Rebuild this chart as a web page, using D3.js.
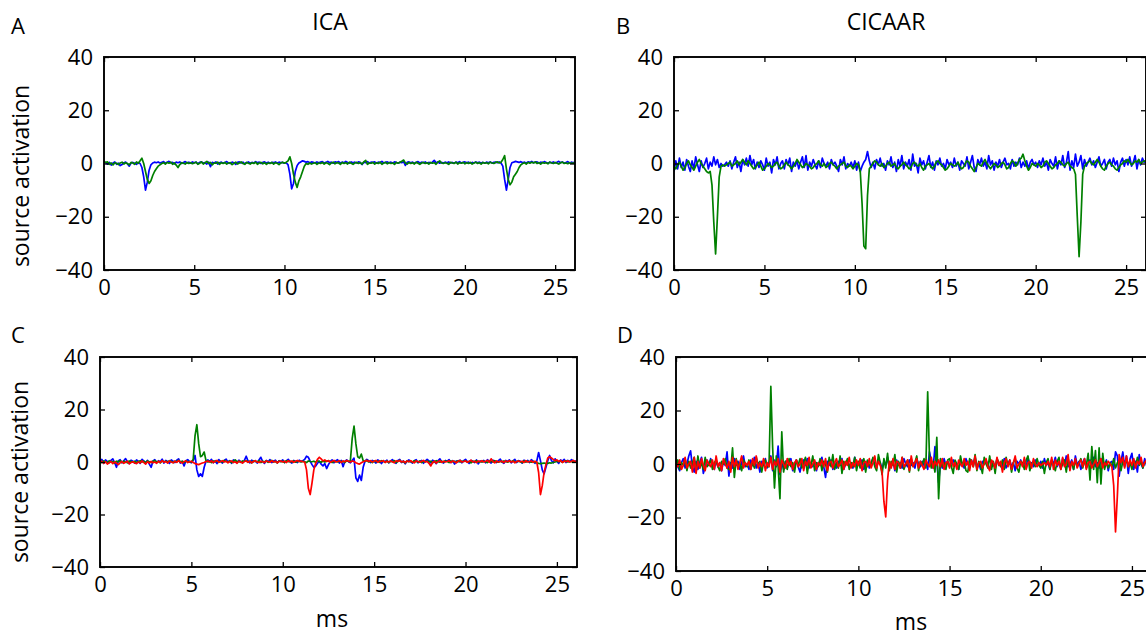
<!DOCTYPE html>
<html>
<head>
<meta charset="utf-8">
<script src="https://cdn.jsdelivr.net/npm/d3@7"></script>
<style>
  body { margin: 0; background: #fff; }
  svg text { font-family: "Open Sans", "Noto Sans", sans-serif; fill: #000; }
</style>
</head>
<body>
<svg id="fig" width="1146" height="638"></svg>
<script>
// ---- data (one sample every 0.1 ms, 0 .. 26.1 ms) ----
var sampleMs = 0.1;
var xTicks = [0, 5, 10, 15, 20, 25];
var yTicks = [-40, -20, 0, 20, 40];
var columnTitles = ['ICA', 'CICAAR'];
var panelLetters = ['A', 'B', 'C', 'D'];
var yLabel = 'source activation';
var xLabel = 'ms';
var seriesColors = ['#0000ff', '#008000', '#ff0000'];

var icaBlue = [
  0.5,0.3,-0.2,0.4,-0.6,0.2,0.6,-0.3,0.1,-0.8,
  -0.4,0.3,0.5,-0.2,-1.0,0.2,0.4,0.1,-0.3,0.3,
  0.0,-1.5,-5.0,-10.0,-7.0,-2.5,-0.5,0.2,0.5,0.3,
  0.6,0.2,0.4,0.7,0.1,0.5,0.8,0.2,0.4,-0.1,
  0.5,0.3,0.6,0.0,0.4,0.7,0.2,0.5,0.1,0.6,
  0.3,0.5,-0.1,0.4,0.6,0.2,0.3,-0.2,0.5,-1.2,
  0.4,0.2,0.6,-0.2,0.3,0.5,0.1,0.4,0.7,0.2,
  0.0,0.5,0.3,-0.3,0.4,0.6,0.2,0.5,-0.1,0.3,
  0.6,0.1,0.4,0.2,0.7,0.3,0.5,0.0,0.4,0.6,
  0.2,0.5,0.1,0.4,0.3,0.6,0.2,0.5,0.3,0.4,
  0.1,0.3,-0.5,-4.0,-9.5,-7.5,-3.0,-0.8,0.2,0.6,
  1.0,0.8,0.5,0.7,0.3,0.6,0.4,0.2,0.6,0.3,
  0.5,0.7,0.2,0.4,0.8,0.3,0.5,0.1,0.6,0.4,
  0.7,0.2,0.5,0.3,0.8,0.4,0.1,0.6,0.3,0.5,
  0.2,0.6,0.4,-0.4,0.5,0.3,0.7,0.2,0.5,0.4,
  0.6,0.1,0.5,0.3,0.8,0.2,0.4,0.6,0.3,0.5,
  0.2,0.6,0.4,0.1,0.5,0.3,0.7,-0.7,0.4,0.6,
  0.3,0.5,0.1,0.4,0.7,0.2,0.5,0.3,0.6,0.1,
  0.4,0.2,0.5,1.2,0.3,0.6,0.1,0.4,0.2,0.5,
  0.3,0.6,0.2,0.4,0.1,0.5,0.3,0.7,0.2,0.4,
  0.6,0.3,0.5,0.1,0.4,0.2,0.6,0.3,0.5,0.2,
  0.4,0.1,0.5,0.3,0.6,0.2,0.4,0.5,0.3,0.6,
  0.2,-1.0,-6.0,-10.0,-6.0,-1.5,0.3,0.5,0.8,0.6,
  0.4,0.7,0.3,0.5,0.2,0.6,0.4,0.8,0.3,0.5,
  0.6,0.2,0.5,0.3,0.7,0.4,0.1,0.5,0.3,0.6,
  0.2,0.5,0.8,0.3,0.6,0.1,0.4,0.7,0.2,0.5,
  0.3,0.4
];
var icaGreen = [
  0.8,0.4,0.6,-0.3,0.2,-0.5,0.3,0.1,-0.4,0.2,
  0.5,-0.2,0.3,0.0,-0.5,0.4,0.2,-0.3,0.6,0.1,
  1.0,2.0,0.0,-3.0,-6.0,-7.5,-6.5,-4.5,-3.0,-2.0,
  -1.0,-0.5,0.0,0.3,-0.2,0.4,0.1,0.5,-0.3,0.2,
  -0.6,-1.5,-0.4,0.3,0.1,-0.2,0.4,0.0,0.3,-0.1,
  0.2,0.5,-0.3,0.1,0.6,-0.2,0.3,0.8,0.0,0.4,
  -0.5,0.2,0.1,0.5,-0.3,0.3,0.0,0.4,-0.2,0.2,
  0.3,-0.4,0.1,0.5,-0.2,0.2,0.6,0.0,-0.3,0.4,
  0.1,-0.2,0.3,0.0,0.5,-0.3,0.2,0.4,-0.1,0.3,
  -0.3,0.2,0.0,0.4,-0.2,0.3,0.1,-0.4,0.2,0.5,
  0.1,0.5,1.0,2.5,0.0,-4.0,-7.0,-9.0,-6.5,-5.0,
  -3.0,-1.0,0.0,-0.3,0.2,-0.2,0.1,0.3,-0.3,0.2,
  0.0,0.4,-0.2,0.3,0.1,-0.4,0.2,0.5,-0.1,0.3,
  0.2,-0.3,0.4,0.0,0.3,-0.2,0.5,0.1,-0.3,0.2,
  0.4,0.0,0.3,-0.2,0.6,1.2,-0.3,0.2,0.1,0.4,
  -0.2,0.3,0.0,0.5,-0.3,0.2,0.4,-0.1,0.3,0.0,
  0.2,-0.3,0.4,0.1,0.5,0.8,1.3,0.2,-0.2,0.4,
  0.0,0.3,-0.2,0.5,0.1,-0.3,0.2,0.4,0.0,0.3,
  -0.2,0.4,0.1,0.3,-0.3,0.5,1.0,0.2,0.0,0.3,
  0.1,-0.3,0.4,0.2,0.0,0.5,-0.2,0.3,0.1,0.4,
  -0.1,0.3,0.0,0.4,-0.2,0.2,0.5,0.0,0.3,-0.2,
  0.4,0.1,0.3,-0.1,0.5,0.2,0.0,0.4,0.6,0.2,
  0.5,1.5,3.0,-2.0,-6.0,-8.0,-7.0,-5.0,-4.0,-3.0,
  -1.5,-0.5,0.0,0.3,-0.2,0.4,0.1,0.5,0.2,0.6,
  0.0,0.3,-0.2,0.4,0.1,0.3,-0.1,0.5,0.2,0.0,
  0.4,0.1,-0.2,0.3,0.5,0.0,0.2,-0.1,0.3,0.1,
  0.2,0.0
];

var cicaarBlue = [
  -3,1,-2,2,-1.5,0.5,-2.5,1.5,-1,-3,
  1,-2,2.5,-0.5,-3,1,-1.5,0,2,-2,
  0.5,-1,2.5,-0.5,1.5,-1.5,0,-1,-0.5,0.5,
  -1,1,-2,0.5,2.5,-1.5,0.5,-3,1.5,-0.5,
  2,-1,3,-0.5,1.5,-2,0.5,-1.5,1,-0.5,
  -2.5,2,-1,0.5,-3.5,1.5,-0.5,2.5,-2,0,
  1,-2,1.5,-0.5,2,-3,0.5,-1,1,-2,
  0.5,2.5,-1.5,3,-2.5,0.5,-1,1.5,-0.5,-2,
  1,-1.5,2,0,-1,0.5,-2,1.5,-0.5,0.5,
  -1,-3,1.5,-0.5,2.5,-2,0,-1,0.5,-1.5,
  1,-2.5,0.5,-3,-1,0.5,1.5,4.5,1,-1.5,
  0.5,-2,1.5,-0.5,2,-1,0,-2.5,1,-0.5,
  2.5,-1.5,0.5,-3,1.5,-1,3,-2,0.5,-1,
  1.5,-2.5,3.5,-1,0,-3.5,2,-0.5,1,-2,
  0.5,3,-1.5,0.5,-2.5,1,-0.5,2,-1,0,
  -2,1.5,-0.5,0.5,-1.5,2,-1,0.5,-2.5,1,
  0,-1,2.5,-2,0.5,3,-1.5,-3,1.5,-0.5,
  2,-1,0.5,-2,3,-0.5,1,-2.5,0.5,-1,
  1.5,-1.5,0.5,2,-0.5,0,-2,1.5,-1,0.5,
  -0.5,2,-1.5,0.5,-1,1,-2,0.5,1.5,-0.5,
  0.5,-1.5,1,-0.5,2,-1,0.5,-2.5,1.5,0,
  -1,2.5,-2,1,-0.5,3,-1.5,0.5,4.5,-2.5,
  1,-1.5,3.5,-1,0.5,3,-2,1.5,-1,0.5,
  2,-0.5,1,-1.5,0.5,2.5,-1,0,1.5,-2,
  0.5,1.5,-1,2,-0.5,1,-3,0.5,2,-1,
  1.5,-0.5,2.5,-1,0.5,3,-2,1.5,-0.5,2,
  0.5,1
];
var cicaarGreen = [
  -1,-2,-0.5,0.5,-1,-2.5,-1.5,0,1,-0.5,
  -1.5,-2.5,-1,0.5,1.5,0,-1,-2,-3,-3.5,
  -3,-8,-22,-34,-20,-5,-1,-0.5,-1,-0.5,
  0,0.5,-1,-0.5,0,1,-0.5,0.5,1.5,0.5,
  -0.5,1,0,-1,-2,-1.5,-0.5,0.5,-1,-2.5,
  -2,-1,0,-0.5,-1.5,-1,0,0.5,-1,-2,
  -1.5,-0.5,0.5,-0.5,-1,-2,-1,0,1.5,0.5,
  -0.5,-1.5,-1,0,-0.5,-1,-2,-1.5,-0.5,0,
  1,-0.5,-1,0,-1.5,-1,0,0.5,-0.5,-1,
  -2,-1,-0.5,0,0.5,-1,-1.5,-0.5,-1,-2,
  -1,0,-0.5,-3,-15,-31,-32,-12,-2,-1,
  0,1,0.5,-0.5,-1,0,-1.5,-1,0,0.5,
  -1,-0.5,0,-1.5,-2,-1,-0.5,0.5,-0.5,-1,
  -2,-1.5,0,0.5,-0.5,-1,0,-1.5,-2.5,-1,
  -0.5,0,-1,-2,-1,0.5,1,0,-0.5,-1.5,
  -2.5,-2,-1,0,-0.5,-1,-0.5,0.5,-1,-2,
  -1.5,0,1,0.5,-1,-2,-3,-1.5,0,-0.5,
  -1,0.5,1.5,0,-1,-2,-1,0,-0.5,-1.5,
  -1,0,0.5,-0.5,-2,-1.5,0,1,0.5,-1,
  0,1.5,2,3.5,1,-1,-2.5,-1.5,0,-0.5,
  -1,0,-0.5,-1.5,-1,0.5,1,0,-1,-2,
  -1.5,-0.5,0,1,0.5,-0.5,-1,0,0.5,-1,
  -1.5,-2,-4,-20,-35,-22,-4,-1,0,0.5,
  1,0,-0.5,0.5,1.5,0.5,-1,-2,-2.5,-1,
  0,0.5,-0.5,-1,-2,-2.5,-1.5,-0.5,0,1,
  0.5,1.5,0.5,-0.5,0,1,0.5,1.5,0,0.5,
  1,0.5
];

var icaBlue3 = [
  0.5,1.0,-0.5,0.8,0.2,-0.3,0.6,1.2,-0.2,-2.0,
  0.4,0.9,-0.3,0.5,1.3,0.1,-0.6,0.7,0.3,-0.4,
  0.8,0.2,-0.5,1.0,0.3,-0.2,0.6,-0.8,-2.0,0.4,
  0.9,-0.3,0.5,0.1,1.1,-0.4,0.6,0.2,-0.5,0.8,
  0.3,-0.2,0.7,1.2,-0.4,0.2,-1.5,0.5,0.9,0.1,
  -0.3,0.6,2.5,-3.0,-5.5,-4.5,-5.5,-2.0,0.3,0.8,
  0.2,1.0,-0.3,0.5,-0.6,0.9,0.2,-0.4,0.6,1.1,
  0.0,0.5,-0.5,0.8,0.3,-0.2,0.7,0.1,-0.3,0.6,
  2.2,0.4,-0.3,0.7,0.1,0.5,-0.4,0.8,1.8,0.2,
  -0.5,0.6,0.1,0.9,-0.2,0.4,0.7,-0.3,0.5,0.2,
  0.8,-0.2,0.4,1.0,0.1,-0.4,0.6,0.3,-0.2,0.7,
  0.2,0.5,1.0,2.2,1.8,0.3,-1.0,-2.0,-1.5,-0.5,
  0.3,-0.8,-1.5,-0.6,-2.5,-1.0,0.2,0.8,-0.3,0.5,
  0.9,-0.4,0.6,-1.8,0.3,0.8,0.1,-0.3,0.6,1.5,
  -6.0,-7.4,-5.0,-7.0,-2.0,0.3,1.0,0.5,-0.2,0.6,
  0.2,-0.4,0.8,0.3,-0.6,0.5,0.1,0.7,-0.3,0.4,
  0.9,0.0,-0.5,0.6,1.0,-0.2,0.4,-0.7,0.3,0.8,
  0.1,-0.4,0.5,0.9,-0.3,0.2,0.6,-0.5,0.3,1.0,
  0.4,-0.3,0.7,0.2,-0.6,0.5,1.2,0.0,-0.4,0.6,
  0.3,0.9,-0.2,0.5,-0.8,0.4,0.1,0.7,-0.3,0.5,
  1.0,0.2,-0.5,0.6,0.3,-0.2,0.8,-0.7,0.4,0.1,
  0.6,-0.3,0.9,0.2,-0.4,0.7,0.3,-0.2,0.5,1.1,
  0.0,-0.5,0.6,0.2,0.8,-0.3,0.4,1.0,-0.2,0.5,
  0.3,-0.4,0.7,0.1,0.6,-0.2,0.9,0.3,-0.5,0.4,
  3.6,0.5,-3.0,-4.5,-2.0,0.5,2.5,0.6,-0.3,1.2,
  0.2,-0.5,0.8,0.3,1.0,-0.2,0.6,0.1,0.9,0.4,
  0.2,0.6
];
var icaGreen3 = [
  0.3,-0.2,0.4,0.1,-0.3,0.5,0.0,0.2,-0.4,0.3,
  0.1,0.5,-0.2,0.3,0.0,-0.3,0.4,0.2,-0.1,0.3,
  -0.2,0.2,0.5,0.0,0.3,-0.3,0.4,0.1,-0.2,0.3,
  0.5,0.0,0.2,-0.3,0.4,0.1,0.3,-0.1,0.5,0.2,
  -0.2,0.3,0.1,0.6,0.0,0.3,-0.2,0.4,0.1,0.2,
  0.0,1.0,10.0,14.2,7.0,2.0,2.5,3.8,0.5,0.0,
  0.3,-0.2,0.4,0.1,0.5,-0.1,0.3,0.0,0.6,0.2,
  0.0,0.4,-0.2,0.3,0.8,0.1,0.3,-0.1,0.4,0.2,
  0.5,0.0,0.3,-0.3,0.4,0.2,0.0,0.5,-0.2,0.3,
  0.1,0.4,-0.1,0.3,0.6,0.0,0.2,-0.3,0.4,0.1,
  0.3,-0.2,0.5,0.1,0.3,0.0,0.4,-0.1,0.2,0.3,
  0.0,0.3,0.1,-0.2,0.4,0.2,0.1,0.3,-0.1,0.5,
  0.2,-0.1,0.4,0.0,0.3,0.5,0.1,-0.2,0.3,0.2,
  0.0,0.4,0.1,0.3,-0.2,0.5,0.2,0.5,9.0,13.7,
  7.0,2.0,1.5,3.0,0.5,0.2,0.6,0.0,0.3,-0.2,
  0.4,0.1,0.3,-0.1,0.5,0.2,0.0,0.4,-0.2,0.3,
  0.1,0.5,-0.2,0.3,0.6,0.0,0.2,-0.3,0.4,0.1,
  0.3,-0.1,0.5,0.2,0.0,0.4,-0.2,0.3,0.1,0.4,
  0.0,0.3,-0.3,0.2,0.5,0.1,-0.1,0.3,0.0,0.4,
  0.2,-0.2,0.4,0.1,0.3,-0.1,0.5,0.0,0.3,0.2,
  0.4,0.0,0.2,-0.3,0.3,0.1,0.5,-0.1,0.2,0.0,
  0.3,0.1,-0.2,0.4,0.2,0.0,0.5,0.1,-0.1,0.3,
  0.0,0.4,0.2,-0.1,0.3,0.1,0.5,0.0,0.2,0.3,
  0.1,-0.2,0.4,0.0,0.3,0.1,-0.1,0.2,0.0,-0.3,
  -0.5,-0.6,-0.5,-0.4,-0.6,-0.5,-0.3,-0.4,-0.2,0.0,
  0.3,0.1,0.4,-0.1,0.2,0.5,0.0,0.3,0.1,0.2,
  0.0,0.3
];
var icaRed3 = [
  -0.2,0.3,-0.5,0.1,-0.8,-0.3,0.2,-0.6,0.0,-0.4,
  -1.0,-0.3,0.2,-0.5,-0.1,0.3,-0.7,-0.2,0.1,-0.4,
  -0.6,0.0,-0.3,0.4,-0.2,-0.8,0.1,-0.4,0.2,-0.3,
  0.0,-0.5,0.3,-0.2,0.5,-0.1,0.2,-0.4,0.4,0.0,
  -0.3,0.3,-0.1,0.5,0.0,-0.4,0.2,0.4,-0.2,0.1,
  0.3,-0.2,-0.6,-0.8,-1.0,-0.7,-0.4,-0.2,0.2,0.4,
  0.0,0.4,-0.2,0.3,0.6,-0.1,0.2,0.5,0.0,0.3,
  -0.3,0.2,0.4,-0.2,0.1,-0.5,0.3,0.0,-0.4,0.2,
  0.4,-0.1,0.3,-0.3,0.2,0.5,0.0,-0.2,0.3,0.1,
  -0.2,0.4,0.2,-0.1,0.5,0.0,0.3,-0.3,0.2,0.4,
  0.0,0.3,-0.2,0.5,0.1,0.4,-0.1,0.3,0.6,0.2,
  0.4,0.1,0.0,-3.0,-10.0,-12.4,-8.0,-3.0,-0.5,1.0,
  1.8,1.2,0.4,0.8,0.2,0.5,-0.1,0.3,0.6,0.0,
  0.2,0.5,-0.2,0.4,0.1,0.6,0.3,0.0,0.4,0.2,
  -0.3,-0.6,-0.8,-0.3,0.1,0.4,0.6,0.2,0.5,0.0,
  0.3,0.6,-0.1,0.4,0.2,0.5,-0.2,0.3,0.0,0.4,
  0.1,-0.3,0.5,0.2,0.6,0.0,0.3,-0.2,0.4,0.1,
  0.5,0.0,-0.3,0.4,0.2,-0.1,0.3,0.6,0.0,0.2,
  -0.5,-1.5,-0.2,0.3,-0.4,0.2,0.5,-0.1,0.3,0.0,
  0.2,0.5,-0.2,0.4,0.1,-0.3,0.3,0.6,0.0,0.2,
  0.4,-0.1,0.3,0.7,0.0,0.3,-0.2,0.4,0.1,0.5,
  0.0,0.3,0.6,-0.1,1.2,0.2,-0.3,0.4,0.0,0.2,
  0.3,-0.2,0.4,0.1,0.5,0.0,0.3,-0.3,0.2,0.4,
  0.1,0.3,-0.2,0.5,0.0,0.2,0.4,-0.1,0.3,0.0,
  -4.0,-12.4,-9.0,-4.0,-1.0,1.5,2.0,1.5,1.0,0.5,
  0.8,0.2,0.6,-0.2,0.4,0.1,0.5,0.0,0.3,0.6,
  0.1,0.4
];

var cicaarBlue3 = [
  1.5,-1.0,-2.5,0.5,2.0,-1.5,0.0,3.0,4.9,-1.0,
  -3.0,1.0,-2.0,0.5,2.5,-3.5,-1.0,1.5,-0.5,2.0,
  0.0,-2.0,1.5,-1.0,0.5,-2.5,1.0,-0.5,4.5,-4.5,
  0.5,-1.5,2.0,-0.5,1.0,-2.0,0.5,3.0,-1.0,0.0,
  -2.0,1.5,-0.5,2.5,-1.5,0.5,-3.0,1.0,-0.5,2.0,
  -1.5,0.5,3.0,-2.5,1.5,-1.0,6.7,-4.0,0.5,-2.0,
  1.0,-1.5,0.5,2.0,-2.5,0.0,1.5,-1.0,-3.0,0.5,
  1.5,-0.5,2.0,-1.5,0.5,-1.0,1.0,-2.5,0.5,-0.5,
  2.5,-1.0,-5.0,1.0,-0.5,1.5,-2.0,0.5,-1.5,1.0,
  -0.5,2.0,-2.0,0.0,1.5,-1.0,0.5,-1.5,2.5,-0.5,
  0.5,-1.0,1.5,-2.0,0.0,1.0,-1.5,0.5,2.0,-0.5,
  -1.0,1.5,0.5,-2.0,1.0,-0.5,2.5,-1.5,0.0,1.0,
  -2.5,1.5,-0.5,0.5,-1.5,2.0,0.0,-1.0,1.5,-0.5,
  0.5,-1.5,2.0,0.0,-1.0,1.0,-0.5,1.5,-2.0,4.5,
  1.0,-1.5,6.5,1.0,-7.0,0.5,-1.5,2.0,-0.5,1.0,
  -1.0,0.5,1.5,-0.5,0.0,-2.0,1.0,0.5,-1.5,2.0,
  0.0,-1.0,1.5,-0.5,2.5,-1.5,0.5,-2.0,1.0,0.0,
  1.5,-0.5,-2.0,1.0,0.5,-1.5,2.0,-0.5,0.5,-1.0,
  2.0,-1.5,0.0,1.5,-1.0,0.5,-2.5,1.0,0.0,1.5,
  -0.5,1.0,-1.5,2.5,-0.5,0.5,-1.0,1.5,0.0,-0.5,
  1.0,-1.5,2.0,-0.5,0.5,-2.0,1.5,0.0,2.5,-1.0,
  0.5,-1.5,2.0,-0.5,3.0,-1.0,0.0,1.5,-2.0,3.0,
  -0.5,1.0,-2.0,0.5,2.0,-1.5,0.0,1.5,-0.5,2.5,
  -1.0,0.5,-1.5,2.0,0.0,-0.5,1.5,-2.5,0.5,1.0,
  -2.0,4.5,3.0,-4.5,1.0,4.5,-1.0,3.0,-3.5,2.0,
  4.0,-2.0,1.0,-3.0,3.5,0.0,-1.5,2.0,-0.5,1.0,
  0.5,-0.5
];
var cicaarGreen3 = [
  -1.0,1.5,-2.0,0.5,-0.5,2.0,-2.5,1.0,-1.5,0.5,
  2.5,-3.0,3.0,-1.5,0.5,-2.0,2.5,-1.0,0.0,1.5,
  -2.0,0.5,1.5,-1.0,-2.5,1.0,0.0,2.0,-1.5,-2.0,
  -2.0,6.0,-5.0,2.0,-1.0,0.5,-2.5,1.5,0.0,-1.0,
  1.5,-2.0,0.5,-1.5,2.5,-0.5,1.0,-3.0,0.5,1.5,
  -1.0,-1.0,29.0,6.0,-9.0,3.0,-1.0,-13.0,12.0,-3.0,
  1.0,-2.0,2.0,-1.0,0.5,-3.0,1.5,-0.5,2.0,-1.5,
  0.5,2.5,-3.5,1.0,-0.5,3.0,-2.5,0.5,-1.0,2.0,
  -2.5,1.0,0.0,-3.0,2.5,-1.0,3.5,-2.0,0.5,-1.5,
  3.0,-3.5,1.0,-0.5,2.0,-2.0,0.5,-1.0,2.5,-2.5,
  1.0,-1.5,0.5,2.0,-3.0,1.5,-0.5,0.0,2.5,-1.0,
  -2.5,3.5,0.5,-4.0,2.0,-1.5,4.0,-2.5,1.0,-0.5,
  3.5,-3.0,1.0,-1.5,2.5,-2.0,0.0,1.5,-3.0,2.0,
  -1.0,0.5,3.0,-2.5,1.0,-0.5,2.0,-1.5,27.0,2.0,
  -1.5,1.0,-3.0,10.0,-13.0,2.0,-1.0,0.5,-2.0,1.5,
  2.0,-1.0,-3.5,1.5,0.0,-2.0,3.0,-0.5,1.0,-2.5,
  -3.0,2.0,0.5,-1.0,3.5,-2.5,1.0,-0.5,-3.5,2.5,
  0.0,-1.5,3.0,-2.0,1.0,-3.5,2.0,0.5,-1.0,1.5,
  -2.0,2.5,-0.5,1.0,-3.0,0.5,2.0,-1.5,-3.0,1.0,
  0.5,-2.0,1.5,3.0,-2.5,0.0,1.0,-1.0,2.0,-0.5,
  -1.5,1.0,-3.5,0.5,2.0,-2.0,1.5,-0.5,-2.5,1.0,
  2.5,-2.0,0.0,1.5,-3.0,2.0,-1.0,0.5,-2.0,1.5,
  -1.0,0.5,2.0,-1.5,1.0,-0.5,4.0,-6.0,6.5,-2.0,
  5.0,-7.0,6.0,-7.5,4.0,-2.0,1.0,-1.5,0.5,-1.0,
  2.0,-1.5,0.5,1.5,-2.5,1.0,-0.5,2.0,-1.0,0.5,
  -2.0,1.5,-1.0,2.5,-0.5,1.0,-1.5,0.5,1.0,-0.5,
  0.5,0.0
];
var cicaarRed3 = [
  0.5,-1.0,1.5,-2.0,-0.5,2.5,-1.5,0.0,1.0,-3.0,
  2.5,-3.5,1.0,-1.5,2.0,-0.5,-2.5,1.5,0.0,-1.0,
  1.5,-2.0,3.0,-1.0,0.5,-2.5,2.0,0.0,-1.5,1.0,
  -3.0,2.5,-1.0,1.5,-2.0,0.5,3.0,-1.5,0.5,-0.5,
  1.0,-2.0,2.0,-0.5,3.0,-1.5,0.5,-1.0,2.0,-2.5,
  0.5,-1.0,2.5,-2.0,1.0,-0.5,2.0,-3.0,1.5,0.0,
  -1.5,2.0,-0.5,1.0,-2.0,0.5,1.5,-1.0,0.0,2.0,
  -2.5,1.0,-0.5,2.5,-1.5,0.0,1.5,-2.0,0.5,-0.5,
  1.5,-1.0,2.0,-2.5,0.5,1.0,-1.5,0.5,2.0,-1.0,
  0.0,1.5,-2.0,1.0,-0.5,2.5,-1.5,0.5,-1.0,1.5,
  -0.5,2.0,-2.5,0.5,1.0,-1.0,2.0,-1.5,0.5,3.0,
  -1.5,1.0,-0.5,-3.0,-14.0,-19.8,-6.0,1.0,-1.5,2.0,
  -2.0,1.0,0.5,-1.5,2.5,-1.0,0.0,1.5,-2.5,3.0,
  -1.0,0.5,2.0,-1.5,1.0,-0.5,-2.0,1.5,0.0,-1.0,
  2.5,-1.5,1.0,-0.5,1.5,-1.0,2.0,-2.0,0.5,1.0,
  -1.5,2.5,-1.0,0.5,-2.0,1.5,0.0,-1.0,2.0,-0.5,
  1.0,-2.5,1.5,-1.0,3.0,-2.0,0.5,1.0,-1.5,0.0,
  2.0,-1.0,-2.5,1.5,0.5,-1.5,2.5,-0.5,1.0,-3.0,
  0.5,2.0,-1.0,1.5,-2.0,0.5,3.0,-1.5,0.0,1.0,
  -1.0,2.5,-2.0,0.5,1.0,-1.5,2.0,0.0,-1.0,0.5,
  -0.5,0.0,0.5,-0.5,1.0,-1.0,2.5,-2.0,1.5,-0.5,
  1.0,-2.0,2.5,-1.0,0.0,3.5,-2.5,1.0,-0.5,2.0,
  -1.5,0.5,1.5,-1.0,2.0,-2.0,0.5,1.0,-1.5,0.0,
  1.5,-1.0,0.5,2.0,-1.5,0.5,-0.5,1.0,0.0,-1.0,
  -8.0,-25.4,-12.0,3.5,0.5,2.5,-1.5,3.0,-1.0,1.5,
  -0.5,2.0,-1.5,1.0,0.0,2.5,-1.0,0.5,1.5,-0.5,
  1.0,0.0
];

// ---- layout ----
var xMax = 26.1;
var fontFamily = '"Open Sans", "Noto Sans", sans-serif';
var panels = [
  { letter: panelLetters[0], title: columnTitles[0], left: 104, top: 57,  width: 471, height: 213,
    series: [icaBlue, icaGreen], ylab: true, xlab: false,
    letterPos: [11, 34], titlePos: [330, 30], ylabPos: [29, 176] },
  { letter: panelLetters[1], title: columnTitles[1], left: 674, top: 57,  width: 472, height: 213,
    series: [cicaarBlue, cicaarGreen], ylab: false, xlab: false,
    letterPos: [616, 34], titlePos: [886, 30] },
  { letter: panelLetters[2], left: 100, top: 357, width: 477, height: 210,
    series: [icaBlue3, icaGreen3, icaRed3], ylab: true, xlab: true,
    letterPos: [11, 343], ylabPos: [28, 472], xlabPos: [332, 627] },
  { letter: panelLetters[3], left: 676, top: 357, width: 476, height: 214,
    series: [cicaarBlue3, cicaarGreen3, cicaarRed3], ylab: false, xlab: true,
    letterPos: [617, 343], xlabPos: [911, 630] }
];

var svg = d3.select('#fig');
svg.append('rect').attr('width', 1146).attr('height', 638).attr('fill', '#fff');

panels.forEach(function(p, pi) {
  var x = d3.scaleLinear().domain([0, xMax]).range([p.left, p.left + p.width]);
  var y = d3.scaleLinear().domain([-40, 40]).range([p.top + p.height, p.top]);

  var clipId = 'clip-' + pi;
  svg.append('clipPath').attr('id', clipId)
    .append('rect')
    .attr('x', p.left).attr('y', p.top)
    .attr('width', p.width).attr('height', p.height);

  var line = d3.line()
    .x(function(d, i) { return x(i * sampleMs); })
    .y(function(d) { return y(d); });

  var g = svg.append('g').attr('clip-path', 'url(#' + clipId + ')');
  p.series.forEach(function(s, si) {
    g.append('path')
      .datum(s)
      .attr('d', line)
      .attr('fill', 'none')
      .attr('stroke', seriesColors[si])
      .attr('stroke-width', 1.7)
      .attr('stroke-linejoin', 'round');
  });

  // axes, MATLAB style: ticks inside on all four sides
  function styleAxis(sel) {
    sel.select('.domain').remove();
    sel.selectAll('.tick line').attr('stroke', '#000').attr('stroke-width', 1.3);
    sel.attr('font-size', 22).attr('font-family', fontFamily);
    sel.selectAll('text').attr('fill', '#000');
  }
  svg.append('g')
    .attr('transform', 'translate(0,' + (p.top + p.height) + ')')
    .call(d3.axisBottom(x).tickValues(xTicks).tickSizeInner(-5).tickSizeOuter(0).tickPadding(9))
    .call(styleAxis);
  svg.append('g')
    .attr('transform', 'translate(0,' + p.top + ')')
    .call(d3.axisTop(x).tickValues(xTicks).tickSizeInner(-5).tickSizeOuter(0).tickFormat(''))
    .call(styleAxis);
  svg.append('g')
    .attr('transform', 'translate(' + p.left + ',0)')
    .call(d3.axisLeft(y).tickValues(yTicks).tickSizeInner(-5).tickSizeOuter(0).tickPadding(11))
    .call(styleAxis);
  svg.append('g')
    .attr('transform', 'translate(' + (p.left + p.width) + ',0)')
    .call(d3.axisRight(y).tickValues(yTicks).tickSizeInner(-5).tickSizeOuter(0).tickFormat(''))
    .call(styleAxis);

  svg.append('rect')
    .attr('x', p.left).attr('y', p.top)
    .attr('width', p.width).attr('height', p.height)
    .attr('fill', 'none').attr('stroke', '#000').attr('stroke-width', 1.9);

  svg.append('text').attr('x', p.letterPos[0]).attr('y', p.letterPos[1])
    .attr('font-size', 22).text(p.letter);
  if (p.title) {
    svg.append('text').attr('x', p.titlePos[0]).attr('y', p.titlePos[1])
      .attr('text-anchor', 'middle').attr('font-size', 23).text(p.title);
  }
  if (p.ylab) {
    svg.append('text')
      .attr('transform', 'translate(' + p.ylabPos[0] + ',' + p.ylabPos[1] + ') rotate(-90)')
      .attr('text-anchor', 'middle').attr('font-size', 23).text(yLabel);
  }
  if (p.xlab) {
    svg.append('text').attr('x', p.xlabPos[0]).attr('y', p.xlabPos[1])
      .attr('text-anchor', 'middle').attr('font-size', 23).text(xLabel);
  }
});
</script>
</body>
</html>
